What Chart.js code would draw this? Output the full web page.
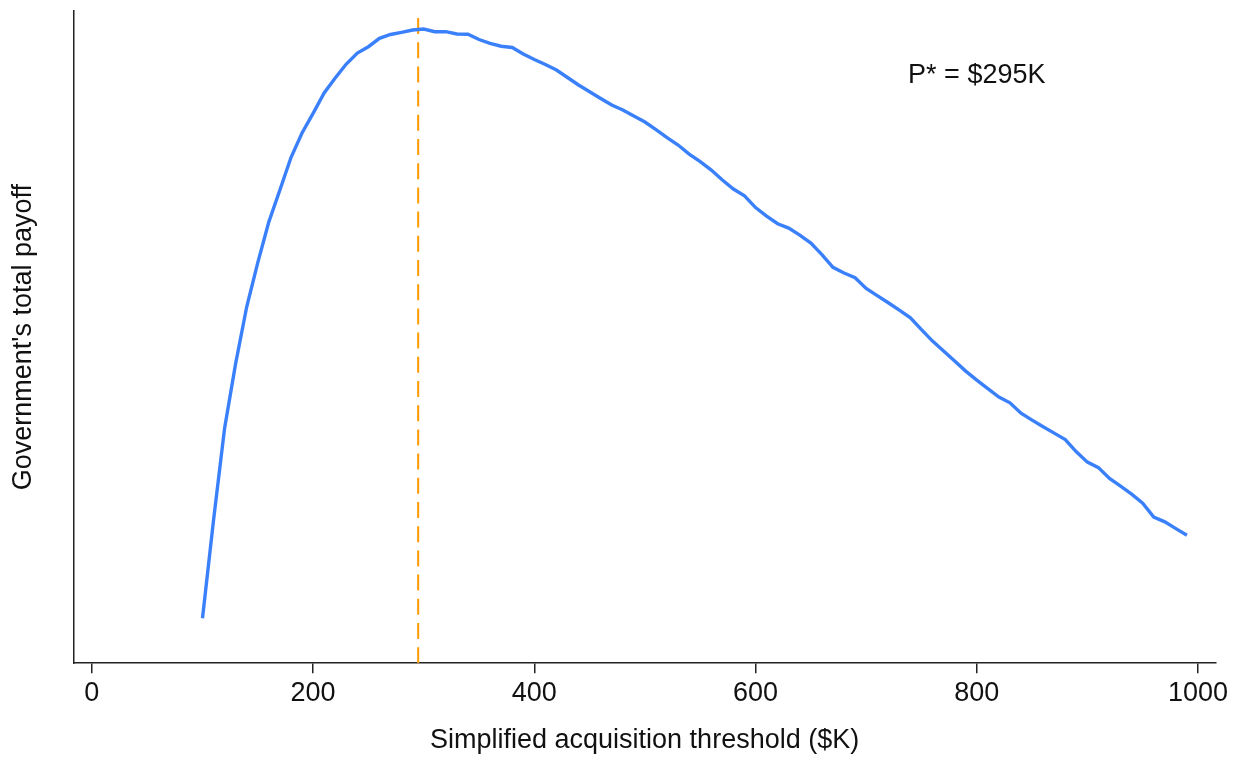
<!DOCTYPE html>
<html>
<head>
<meta charset="utf-8">
<script src="https://cdn.jsdelivr.net/npm/chart.js@4/dist/chart.umd.min.js"></script>
<style>
  html, body { margin: 0; padding: 0; background: #fff; }
  #wrap { width: 1233px; height: 757px; }
</style>
</head>
<body>
<div id="wrap"><canvas id="chart" width="1233" height="757"></canvas></div>
<script>
// threshold in $K
var thresholds = [100,110,120,130,140,150,160,170,180,190,
  200,210,220,230,240,250,260,270,280,290,
  300,310,320,330,340,350,360,370,380,390,
  400,410,420,430,440,450,460,470,480,490,
  500,510,520,530,540,550,560,570,580,590,
  600,610,620,630,640,650,660,670,680,690,
  700,710,720,730,740,750,760,770,780,790,
  800,810,820,830,840,850,860,870,880,890,
  900,910,920,930,940,950,960,970,980,990];
// total payoff (arbitrary units)
var payoff = [45,143,235,299.7,356.3,400.5,441.2,473,505.5,530,
  549.7,570,585,599,610,616.3,624.7,628.5,630.7,633,
  634,631.3,631.3,629,628.7,623.5,619.7,616.8,615.5,609,
  603.5,598.5,593,585.5,578,571.3,564.5,558,553,547,
  541,533.5,525.5,518,509,501.5,493,483,474,467.2,
  455.5,447,439.3,435,428,420,408.5,395.7,390,385.4,
  374.7,367.5,360.3,353,345.3,333.5,322,312,302,292,
  283,274.5,266,260.3,250,243,236.3,230,223.5,211.3,
  201,195.5,184.7,177,169,160,146,141.3,134.5,128];
var xTicks = [0,200,400,600,800,1000];
var pStar = 295;
var pStarLine = [645, 0];
var noteText = "P* = $295K";
var notePos = [800, 587.5];

var FONT = '"Liberation Sans", Arial, Helvetica, sans-serif';

const ctx = document.getElementById("chart").getContext("2d");

var curve = thresholds.map(function (t, i) { return { x: t, y: payoff[i] }; });
var vline = pStarLine.map(function (v) { return { x: pStar, y: v }; });

// text label inside the plot
const notePlugin = {
  id: "note",
  afterDatasetsDraw(chart) {
    const c = chart.ctx;
    const xs = chart.scales.x, ys = chart.scales.y;
    c.save();
    c.font = "27px " + FONT;
    c.fillStyle = "#111";
    c.textAlign = "center";
    c.textBaseline = "middle";
    c.fillText(noteText, xs.getPixelForValue(notePos[0]), ys.getPixelForValue(notePos[1]));
    c.restore();
  }
};

new Chart(ctx, {
  type: "line",
  data: {
    datasets: [
      {
        label: "payoff",
        data: curve,
        borderColor: "#3a80fb",
        borderWidth: 3.4,
        pointRadius: 0,
        tension: 0,
        fill: false,
      },
      {
        label: "P*",
        data: vline,
        borderColor: "#ff9a00",
        borderWidth: 2,
        borderDash: [16, 8.2],
        pointRadius: 0,
        fill: false,
      },
    ],
  },
  options: {
    responsive: false,
    animation: false,
    devicePixelRatio: 1,
    layout: { padding: { top: 11, right: 17.3, bottom: 0, left: 0 } },
    plugins: {
      legend: { display: false },
      tooltip: { enabled: false },
    },
    scales: {
      x: {
        type: "linear",
        min: -16.6,
        max: 1016,
        afterBuildTicks: function (scale) {
          scale.ticks = xTicks.map(function (v) { return { value: v }; });
        },
        grid: {
          display: true,
          drawOnChartArea: false,
          drawTicks: true,
          tickLength: 10,
          color: "#222",
          lineWidth: 1.5,
        },
        border: { display: true, color: "#222", width: 1.5 },
        ticks: {
          padding: 4,
          color: "#111",
          font: { family: FONT, size: 27 },
          maxRotation: 0,
          autoSkip: false,
          callback: function (v) { return String(v); },
        },
        title: {
          display: true,
          text: "Simplified acquisition threshold ($K)",
          color: "#111",
          font: { family: FONT, size: 27 },
          padding: { top: 11, bottom: 0 },
        },
      },
      y: {
        type: "linear",
        min: 0,
        max: 652,
        grid: { display: false, drawTicks: false },
        border: { display: true, color: "#222", width: 1.5 },
        ticks: { display: false },
        title: {
          display: true,
          text: "Government's total payoff",
          color: "#111",
          font: { family: FONT, size: 27 },
          padding: { top: 7.8, bottom: 33.3 },
        },
      },
    },
  },
  plugins: [notePlugin],
});
</script>
</body>
</html>
